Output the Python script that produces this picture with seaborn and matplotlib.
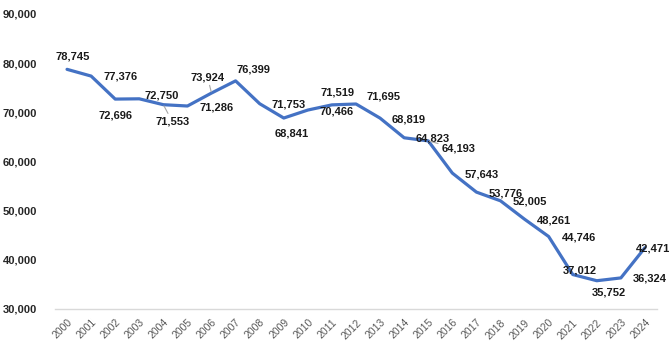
import matplotlib
matplotlib.use("Agg")
import matplotlib.pyplot as plt
import seaborn as sns
import pandas as pd

years = list(range(2000, 2025))
values = [78745, 77376, 72696, 72750, 71553, 71286, 73924, 76399, 71753, 68841,
          70466, 71519, 71695, 68819, 64823, 64193, 57643, 53776, 52005, 48261,
          44746, 37012, 35752, 36324, 42471]
y_ticks = [30000, 40000, 50000, 60000, 70000, 80000, 90000]

# label offsets in pixels (dx, dy up-positive) and whether a leader line is drawn
label_offsets = [(6, 13), (29, 0), (0, -16), (22, 3), (9, -17), (29, -1), (-4, 16),
                 (18, 11), (29, -1), (8, -15), (29, -1), (6, 12), (27, 7), (29, -1),
                 (29, -1), (30, -8), (29, -1), (29, -1), (29, -1), (29, -1), (30, -1),
                 (7, 4), (12, -12), (29, -1), (8, -1)]
leaders = {2004, 2006, 2015}

df = pd.DataFrame({"year": years, "value": values})

sns.set_style("white")
plt.rcParams["font.family"] = ["Liberation Sans", "DejaVu Sans"]

fig = plt.figure(figsize=(6.72, 3.54), dpi=100)
ax = fig.add_axes([55 / 672, 1 - 309 / 354, (657 - 55) / 672, (309 - 14) / 354])

sns.lineplot(data=df, x="year", y="value", ax=ax, color="#4472C4", linewidth=2.3)

for yr, v, (dx, dy) in zip(years, values, label_offsets):
    kw = {}
    if yr in leaders:
        kw["arrowprops"] = dict(arrowstyle="-", color="#A6A6A6", lw=0.8,
                                shrinkA=0, shrinkB=1)
    ax.annotate(f"{v:,}", xy=(yr, v), xytext=(dx, dy), textcoords="offset pixels",
                ha="center", va="center", fontsize=8, color="#1A1A1A",
                fontweight="bold", **kw)

ax.set_xlim(1999.5, 2024.5)
ax.set_ylim(30000, 90000)
ax.set_yticks(y_ticks)
ax.set_yticklabels([f"{t:,}" for t in y_ticks])
ax.set_xticks(years)
ax.set_xticklabels([str(y) for y in years], rotation=45, ha="right",
                   rotation_mode="anchor")
ax.tick_params(axis="y", length=0, pad=13, labelsize=8, labelcolor="#262626")
ax.tick_params(axis="x", length=0, pad=6, labelsize=7.5, labelcolor="#595959")
for lbl in ax.get_yticklabels():
    lbl.set_fontweight("bold")
ax.set_xlabel("")
ax.set_ylabel("")
for s in ["top", "right", "left"]:
    ax.spines[s].set_visible(False)
ax.spines["bottom"].set_color("#D9D9D9")
ax.spines["bottom"].set_linewidth(1)
ax.grid(False)

fig.savefig("out.png", dpi=100)
